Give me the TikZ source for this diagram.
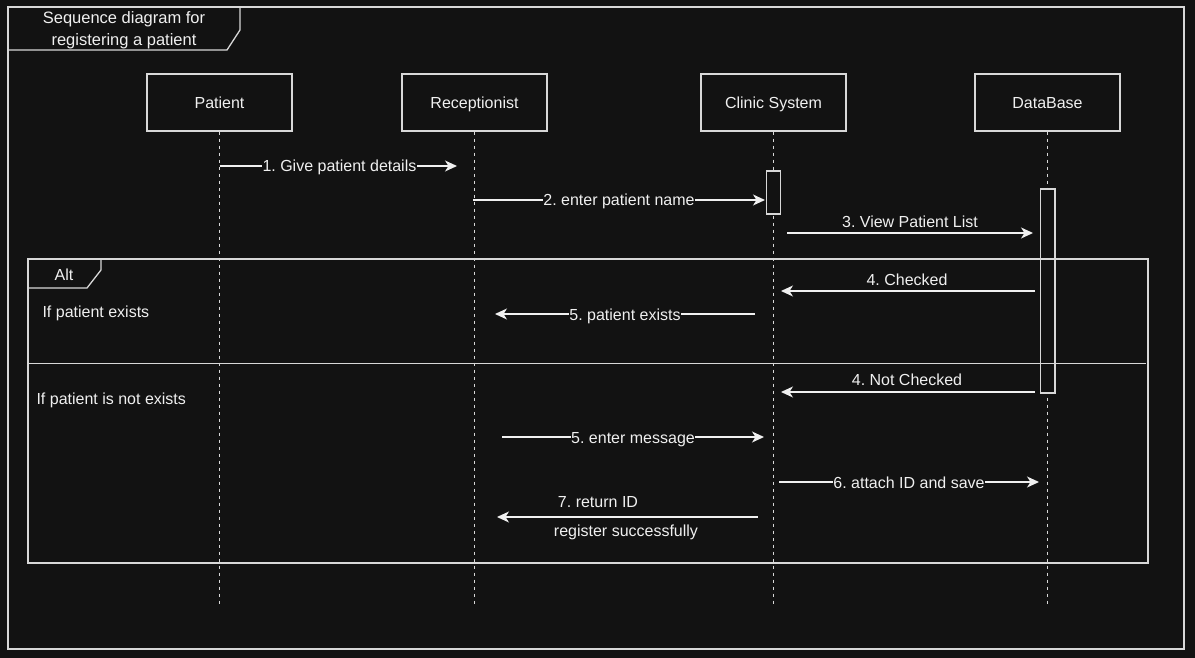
\documentclass[tikz,border=0pt]{standalone}
\usepackage{fontspec}
\setmainfont{Liberation Sans}
\usetikzlibrary{arrows.meta}
\definecolor{bg}{HTML}{121212}
\definecolor{ink}{HTML}{F0F0F0}
\definecolor{edge}{HTML}{D8D8D8}
\frenchspacing
\begin{document}
\begin{tikzpicture}[x=1pt,y=-1pt,
  every node/.style={font=\fontsize{16}{19}\selectfont, text=ink},
  txt/.style={text height=13.5pt, text depth=1.5pt},
  actor/.style={txt, draw=edge, line width=1.3pt, minimum width=145pt, minimum height=57pt, inner sep=0pt},
  life/.style={draw=edge, line width=1.3pt, dash pattern=on 3pt off 4pt},
  act/.style={draw=edge, line width=1.3pt, fill=bg},
  frame/.style={draw=edge, line width=1.3pt},
  msg/.style={draw=ink, line width=1.3pt, -{Stealth[length=12pt,width=11pt,inset=3.5pt]}},
  onl/.style={txt, fill=bg, inner sep=0.3pt},
]
\fill[bg] (0,0) rectangle (1195,658);
\useasboundingbox (0,0) rectangle (1195,658);

% outer diagram frame with its title tab
\draw[frame] (8,7) rectangle (1184,649);
\draw[frame] (8,50) -- (227,50) -- (240,30) -- (240,7);
\node[align=center, font=\fontsize{16.5}{22}\selectfont] (title) at (124,30.5) {Sequence diagram for\\registering a patient};

% participants
\node[actor] (patient) at (219.5,102.5) {Patient};
\node[actor] (recep) at (474.5,102.5) {Receptionist};
\node[actor] (clinic) at (773.5,102.5) {Clinic System};
\node[actor] (db) at (1047.5,102.5) {DataBase};

% lifeline ends
\coordinate (pE) at (219.5,605);
\coordinate (rE) at (474.5,605);
\coordinate (cE) at (773.5,605);
\coordinate (dE) at (1047.5,605);
\draw[life] (patient.south) -- (pE);
\draw[life] (recep.south) -- (rE);
\draw[life] (clinic.south) -- (cE);
\draw[life] (db.south) -- (dE);

% activation bars
\draw[act] (766.5,171) rectangle (780.5,214);
\draw[act] (1040.5,189) rectangle (1055,393);

% alt combined fragment
\draw[frame] (28,259) rectangle (1148,563);
\draw[frame] (28,288) -- (87,288) -- (101,270) -- (101,259);
\node[txt] (alt) at (64,274) {Alt};
\draw[frame] (28,363.5) -- (1146,363.5);
\node[txt, anchor=west] (g1) at (39,311) {If patient exists};
\node[txt, anchor=west] (g2) at (33,398) {If patient is not exists};

% message end points
\coordinate (m1a) at (219.5,166); \coordinate (m1b) at (457,166);
\coordinate (m2a) at (473,200);   \coordinate (m2b) at (765,200);
\coordinate (m3a) at (787,233);   \coordinate (m3b) at (1033,233);
\coordinate (m4a) at (1035,291);  \coordinate (m4b) at (781,291);
\coordinate (m5a) at (755,314);   \coordinate (m5b) at (495,314);
\coordinate (n4a) at (1035,392);  \coordinate (n4b) at (781,392);
\coordinate (n5a) at (502,437);   \coordinate (n5b) at (764,437);
\coordinate (n6a) at (779,482);   \coordinate (n6b) at (1039,482);
\coordinate (n7a) at (758,517);   \coordinate (n7b) at (497,517);

% messages
\draw[msg] (m1a) -- (m1b) node[onl, pos=0.505] (l1) {1. Give patient details};
\draw[msg] (m2a) -- (m2b) node[onl, pos=0.5] (l2) {2. enter patient name};
\draw[msg] (m3a) -- (m3b);
\node[txt] (l3) at (910,221) {3. View Patient List};
\draw[msg] (m4a) -- (m4b);
\node[txt] (l4) at (907,279) {4. Checked};
\draw[msg] (m5a) -- (m5b) node[onl, pos=0.5] (l5) {5. patient exists};
\draw[msg] (n4a) -- (n4b);
\node[txt] (k4) at (907,379) {4. Not Checked};
\draw[msg] (n5a) -- (n5b) node[onl, pos=0.5] (k5) {5. enter message};
\draw[msg] (n6a) -- (n6b) node[onl, pos=0.5] (k6) {6. attach ID and save};
\draw[msg] (n7a) -- (n7b);
\node[txt] (k7) at (598,501) {7. return ID};
\node[txt] (k7b) at (626,530) {register successfully};
\end{tikzpicture}
\end{document}
